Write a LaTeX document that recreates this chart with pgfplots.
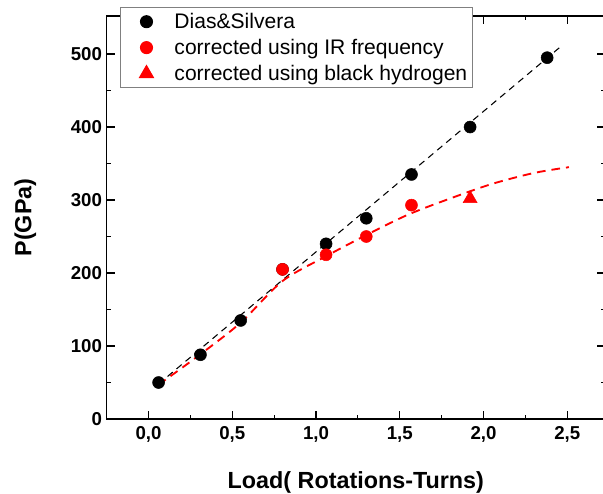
\documentclass[border=0pt]{standalone}
\usepackage{fontspec}
\setmainfont{Liberation Sans}
\usepackage{pgfplots}
\pgfplotsset{compat=1.18}
\pgfplotsset{
    wideleg/.style={legend image code/.code={
        \path[draw=none, fill=none] (0pt,-4pt) rectangle (36.75pt,4pt);
        \draw[##1] plot coordinates {(17.75pt,0pt)};}}
}

% measured data (Load in turns, P in GPa)
\pgfplotstableread{
x y
0.06 50
0.31 88
0.55 135
0.80 205
1.06 240
1.30 275
1.57 335
1.92 400
2.38 495
}\dias
\pgfplotstableread{
x y
0.80 205
1.06 225
1.30 250
1.57 293
}\irfreq

\begin{document}
\begin{tikzpicture}
\begin{axis}[
    name=ax,
    scale only axis,
    width=373.7pt, height=302.2pt,
    xmin=-0.25, xmax=2.725, ymin=0, ymax=552,
    xtick={0,0.5,1,1.5,2,2.5}, minor x tick num=1,
    ytick={0,100,200,300,400,500}, minor y tick num=1,
    tick align=inside,
    major tick length=6pt, minor tick length=3pt,
    axis line style={line width=0.9pt},
    every tick/.style={black, line width=0.9pt},
    tick label style={font=\fontsize{14}{16}\selectfont\bfseries},
    /pgf/number format/assume math mode=true,
    xticklabel style={yshift=-2pt, /pgf/number format/.cd, fixed, fixed zerofill, precision=1, use comma},
    xlabel={Load( Rotations-Turns)},
    ylabel={P(GPa)},
    label style={font=\fontsize{17.5}{20}\selectfont\bfseries},
    xlabel style={yshift=-15pt},
    ylabel style={yshift=19pt},
    legend style={at={(0.026,1.022)}, anchor=north west, draw=gray, line width=0.8pt,
        font=\fontsize{15.8}{19}\selectfont, row sep=2.5pt, inner sep=2pt},
    legend cell align=left,
]
% guide lines
\addplot[black, line width=0.8pt, dash pattern=on 5pt off 3.8pt, forget plot]
    coordinates {(0.06,48) (2.46,510)};
\addplot[red, line width=1.4pt, dash pattern=on 6.5pt off 4.5pt, smooth, forget plot]
    coordinates {(0.06,47) (0.30,87) (0.55,132) (0.80,189) (1.06,223) (1.30,252)
                 (1.55,280) (1.80,302) (2.05,322) (2.30,337) (2.51,345)};
% points
\addplot[only marks, mark=*, mark size=4.5pt, black, wideleg] table {\dias};
\addlegendentry{Dias\&Silvera}
\addplot[only marks, mark=*, mark size=4.5pt, red, wideleg] table {\irfreq};
\addlegendentry{corrected using IR frequency}
\addplot[only marks, mark=triangle*, mark size=6pt, red, wideleg] coordinates {(1.92,302)};
\addlegendentry{corrected using black hydrogen}
\end{axis}
\pgfresetboundingbox
\path (ax.south west) ++(-80pt,-55.5pt) rectangle ++(452.25pt,369.75pt);
\end{tikzpicture}
\end{document}
